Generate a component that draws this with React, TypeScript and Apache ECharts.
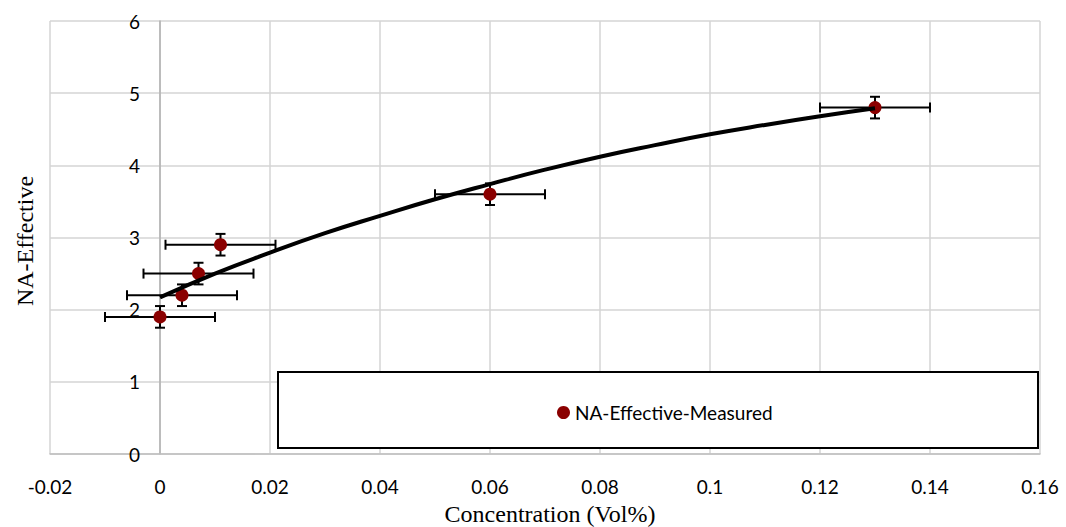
import React, { useEffect, useRef } from "react";
import * as echarts from "echarts";

const xValues = [0, 0.004, 0.007, 0.011, 0.06, 0.13];
const yValues = [1.9, 2.2, 2.5, 2.9, 3.6, 4.8];
const xErrors = [0.01, 0.01, 0.01, 0.01, 0.01, 0.01];
const yErrors = [0.15, 0.15, 0.15, 0.15, 0.15, 0.15];

const trendX = [0, 0.01, 0.02, 0.03, 0.04, 0.05, 0.06, 0.07, 0.08, 0.09, 0.1, 0.11, 0.12, 0.13];
const trendY = [2.17, 2.5, 2.79, 3.06, 3.3, 3.53, 3.74, 3.94, 4.12, 4.28, 4.43, 4.56, 4.68, 4.79];

const seriesName = "NA-Effective-Measured";
const xTitle = "Concentration (Vol%)";
const yTitle = "NA-Effective";

const SANS = "Lato, 'Open Sans', sans-serif";
const SERIF = "'Liberation Serif', 'Times New Roman', serif";

export default function App() {
  const ref = useRef<HTMLDivElement>(null);
  useEffect(() => {
    document.body.style.margin = "0";
    const chart = echarts.init(ref.current!, null, { renderer: "svg" });
    const points = xValues.map((x, i) => [x, yValues[i]]);
    const errData = xValues.map((x, i) => [x, yValues[i], xErrors[i], yErrors[i]]);
    const trend = trendX.map((x, i) => [x, trendY[i]]);
    chart.setOption({
      animation: false,
      backgroundColor: "#ffffff",
      grid: { left: 50, right: 26, top: 21, bottom: 73, containLabel: false },
      xAxis: {
        type: "value",
        min: -0.02,
        max: 0.16,
        interval: 0.02,
        axisLine: { show: true, lineStyle: { color: "#bfbfbf", width: 1.5 } },
        axisTick: { show: false },
        axisLabel: {
          margin: 23,
          fontFamily: SANS,
          fontSize: 19,
          color: "#000",
          formatter: (v: number) => String(parseFloat(v.toFixed(4))),
        },
        splitLine: { show: true, lineStyle: { color: "#d4d4d4", width: 1.5 } },
      },
      yAxis: {
        type: "value",
        min: 0,
        max: 6,
        interval: 1,
        axisLine: { show: true, onZero: true, lineStyle: { color: "#b0b0b0", width: 1.5 } },
        axisTick: { show: false },
        axisLabel: { margin: -90, fontFamily: SANS, fontSize: 19, color: "#000" },
        splitLine: { show: true, lineStyle: { color: "#d4d4d4", width: 1.5 } },
      },
      legend: {
        data: [{ name: seriesName, icon: "circle" }],
        left: 552,
        top: 398,
        itemWidth: 13,
        itemHeight: 13,
        itemGap: 5,
        textStyle: { fontFamily: SANS, fontSize: 19, color: "#000" },
        z: 10,
      },
      graphic: [
        {
          type: "rect",
          z: 5,
          shape: { x: 278, y: 372, width: 760, height: 76 },
          style: { fill: "#ffffff", stroke: "#000000", lineWidth: 2 },
        },
        {
          type: "text",
          x: 550,
          y: 514,
          style: {
            text: xTitle,
            fontFamily: SERIF,
            fontSize: 24,
            fill: "#000",
            align: "center",
            verticalAlign: "middle",
          },
        },
        {
          type: "text",
          x: 25,
          y: 241,
          rotation: Math.PI / 2,
          style: {
            text: yTitle,
            fontFamily: SERIF,
            fontSize: 24,
            fill: "#000",
            align: "center",
            verticalAlign: "middle",
          },
        },
      ],
      series: [
        {
          type: "custom",
          name: "errors",
          z: 2,
          data: errData,
          renderItem: (params: any, api: any) => {
            const x = api.value(0);
            const y = api.value(1);
            const ex = api.value(2);
            const ey = api.value(3);
            const l = api.coord([x - ex, y]);
            const r = api.coord([x + ex, y]);
            const t = api.coord([x, y + ey]);
            const b = api.coord([x, y - ey]);
            const cap = 5;
            const st = { stroke: "#000", lineWidth: 2 };
            const ln = (x1: number, y1: number, x2: number, y2: number) => ({
              type: "line",
              shape: { x1, y1, x2, y2 },
              style: st,
            });
            return {
              type: "group",
              children: [
                ln(l[0], l[1], r[0], r[1]),
                ln(l[0], l[1] - cap, l[0], l[1] + cap),
                ln(r[0], r[1] - cap, r[0], r[1] + cap),
                ln(t[0], t[1], b[0], b[1]),
                ln(t[0] - cap, t[1], t[0] + cap, t[1]),
                ln(b[0] - cap, b[1], b[0] + cap, b[1]),
              ],
            };
          },
        },
        {
          type: "scatter",
          name: seriesName,
          z: 3,
          data: points,
          symbol: "circle",
          symbolSize: 13,
          itemStyle: { color: "#8b0000", opacity: 1 },
        },
        {
          type: "line",
          name: "trend",
          z: 4,
          data: trend,
          smooth: true,
          showSymbol: false,
          symbol: "none",
          lineStyle: { color: "#000", width: 4 },
        },
      ],
    });
    return () => chart.dispose();
  }, []);
  return <div ref={ref} style={{ width: 1066, height: 527 }} />;
}
